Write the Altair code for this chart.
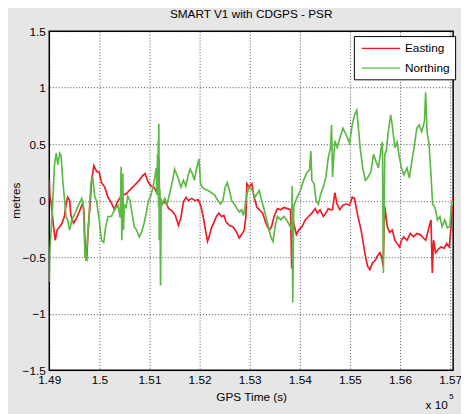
import altair as alt
import pandas as pd

# Easting series (GPS time in s, metres)
east_t = [149000, 149014, 149039, 149079, 149118, 149157, 149210, 149255, 149301, 149340,
          149367, 149407, 149432, 149485, 149550, 149615, 149668, 149694, 149721, 149747,
          149780, 149812, 149845, 149890, 149943, 149996, 150041, 150106, 150173, 150238,
          150303, 150350, 150401, 150468, 150533, 150598, 150664, 150729, 150794, 150861,
          150912, 150959, 151024, 151089, 151156, 151187, 151201, 151254, 151319, 151384,
          151450, 151515, 151580, 151627, 151678, 151731, 151776, 151843, 151908, 151973,
          152026, 152071, 152118, 152158, 152189, 152236, 152287, 152335, 152386, 152433,
          152484, 152531, 152596, 152661, 152728, 152792, 152838, 152891, 152924, 152944,
          152989, 153042, 153087, 153146, 153191, 153258, 153323, 153388, 153435, 153486,
          153553, 153618, 153683, 153749, 153814, 153838, 153848, 153879, 153932, 153977,
          154044, 154109, 154174, 154241, 154306, 154351, 154404, 154469, 154522, 154567,
          154614, 154653, 154699, 154744, 154797, 154862, 154928, 154993, 155046, 155092,
          155137, 155176, 155223, 155268, 155308, 155353, 155400, 155451, 155504, 155549,
          155597, 155636, 155661, 155695, 155746, 155793, 155844, 155897, 155942, 155990,
          156029, 156074, 156139, 156206, 156271, 156335, 156402, 156467, 156512, 156565,
          156618, 156644, 156669, 156709, 156762, 156815, 156880, 156933, 156984, 157023,
          157057]
east_v = [0.18, 0.03, -0.02, -0.2, -0.35, -0.26, -0.23, -0.2, -0.14, -0.02,
          0.03, 0.0, -0.13, -0.2, -0.15, -0.08, -0.02, -0.1, -0.5, -0.52,
          -0.23, -0.05, 0.18, 0.31, 0.26, 0.25, 0.16, 0.12, 0.03, -0.02,
          -0.08, -0.02, 0.02, 0.05, 0.06, 0.09, 0.12, 0.15, 0.18, 0.22,
          0.24, 0.18, 0.13, 0.12, 0.06, 0.38, 0.02, -0.03, -0.01, -0.07,
          -0.09, -0.13, -0.22, -0.15, -0.01, 0.03, 0.0, 0.02, 0.0, 0.01,
          -0.05, -0.14, -0.26, -0.36, -0.32, -0.24, -0.19, -0.14, -0.11, -0.14,
          -0.13, -0.19, -0.22, -0.23, -0.27, -0.33, -0.3, -0.26, -0.14, 0.15,
          0.12, 0.15, 0.03, -0.06, -0.08, -0.11, -0.2, -0.26, -0.23, -0.14,
          -0.07, -0.08, -0.06, -0.07, -0.08, -0.6, -0.11, -0.2, -0.3, -0.26,
          -0.23, -0.17, -0.14, -0.11, -0.07, -0.11, -0.08, -0.14, -0.11, -0.07,
          -0.08, -0.08, 0.07, -0.03, -0.08, -0.04, -0.03, -0.04, 0.03, 0.02,
          -0.09, -0.17, -0.26, -0.38, -0.49, -0.58, -0.61, -0.55, -0.53, -0.49,
          -0.46, -0.5, -0.58, -0.05, -0.23, -0.28, -0.26, -0.35, -0.38, -0.41,
          -0.35, -0.32, -0.35, -0.29, -0.32, -0.29, -0.3, -0.33, -0.35, -0.26,
          -0.17, -0.64, -0.35, -0.46, -0.43, -0.41, -0.42, -0.38, -0.41, -0.2,
          0.03]

# Northing series
north_t = [149000, 149010, 149059, 149104, 149138, 149171, 149210, 149236, 149269, 149301,
           149334, 149367, 149407, 149452, 149517, 149584, 149648, 149682, 149713, 149733,
           149760, 149792, 149831, 149865, 149910, 149943, 149996, 150041, 150087, 150126,
           150173, 150238, 150303, 150370, 150415, 150434, 150448, 150468, 150480, 150499,
           150533, 150566, 150611, 150651, 150696, 150743, 150794, 150841, 150892, 150939,
           150979, 151024, 151069, 151108, 151136, 151147, 151161, 151167, 151175, 151181,
           151187, 151194, 151207, 151221, 151234, 151254, 151305, 151352, 151417, 151462,
           151501, 151535, 151580, 151627, 151678, 151725, 151765, 151810, 151855, 151894,
           151928, 151961, 151987, 152020, 152052, 152105, 152169, 152236, 152301, 152366,
           152419, 152464, 152511, 152551, 152596, 152641, 152694, 152747, 152792, 152838,
           152877, 152910, 152944, 152989, 153054, 153101, 153191, 153239, 153290, 153356,
           153421, 153466, 153506, 153553, 153618, 153683, 153749, 153800, 153834, 153848,
           153859, 153879, 153946, 154011, 154076, 154142, 154194, 154221, 154241, 154286,
           154325, 154370, 154417, 154469, 154522, 154567, 154614, 154634, 154653, 154699,
           154744, 154797, 154862, 154928, 154993, 155046, 155092, 155137, 155170, 155204,
           155255, 155308, 155353, 155420, 155471, 155518, 155569, 155616, 155648, 155668,
           155695, 155726, 155765, 155813, 155844, 155897, 155942, 155976, 156029, 156074,
           156139, 156186, 156237, 156290, 156335, 156382, 156433, 156487, 156512, 156539,
           156579, 156618, 156650, 156697, 156748, 156795, 156840, 156893, 156944, 156992,
           157023, 157057]
north_v = [-0.72, -0.46, -0.11, 0.32, 0.42, 0.32, 0.42, 0.4, 0.18, 0.03,
           -0.14, -0.17, -0.26, -0.17, -0.11, -0.04, 0.02, -0.06, -0.49, -0.53,
           -0.35, -0.14, 0.15, 0.21, 0.03, 0.0, -0.17, -0.35, -0.37, -0.23,
           -0.14, -0.14, -0.08, -0.04, -0.15, 0.3, -0.35, 0.24, -0.26, -0.04,
           -0.06, 0.04, 0.0, -0.11, -0.23, -0.26, -0.32, -0.28, -0.2, -0.1,
           0.0, 0.04, 0.12, 0.21, 0.29, 0.05, 0.41, 0.1, 0.53, -0.05,
           0.68, -0.35, 0.1, -0.75, 0.02, -0.03, 0.02, -0.03, 0.09, 0.18,
           0.28, 0.24, 0.19, 0.12, 0.18, 0.13, 0.21, 0.28, 0.24, 0.18,
           0.26, 0.32, 0.37, 0.15, 0.12, 0.1, 0.09, 0.07, 0.05, 0.0,
           -0.03, 0.0, 0.12, 0.16, 0.09, 0.0, -0.03, -0.07, -0.1, -0.08,
           -0.13, -0.04, 0.06, 0.12, 0.09, 0.03, 0.09, 0.0, -0.08, -0.2,
           -0.32, -0.36, -0.23, -0.14, -0.17, -0.14, -0.18, -0.22, -0.26, 0.13,
           -0.9, -0.05, 0.03, 0.09, 0.18, 0.25, 0.27, 0.44, 0.18, 0.15,
           0.0, -0.03, 0.06, 0.12, 0.21, 0.38, 0.47, 0.67, 0.21, 0.53,
           0.47, 0.55, 0.64, 0.58, 0.51, 0.67, 0.76, 0.8, 0.64, 0.47,
           0.29, 0.18, 0.2, 0.26, 0.41, 0.35, 0.29, 0.44, 0.52, -0.64,
           0.41, 0.44, 0.61, 0.76, 0.67, 0.47, 0.52, 0.41, 0.29, 0.23,
           0.29, 0.2, 0.35, 0.5, 0.64, 0.67, 0.61, 0.7, 0.96, 0.61,
           0.5, 0.23, -0.03, -0.06, -0.17, -0.14, -0.23, -0.17, -0.24, -0.23,
           -0.06, 0.0]

series_names = ["Easting", "Northing"]
series_colors = ["#ee1c25", "#5cb946"]
x_ticks = [149000, 150000, 151000, 152000, 153000, 154000, 155000, 156000, 157000]
y_ticks = [-1.5, -1.0, -0.5, 0.0, 0.5, 1.0, 1.5]

df = pd.concat([
    pd.DataFrame({"t": east_t, "v": east_v, "series": "Easting", "ord": range(len(east_t))}),
    pd.DataFrame({"t": north_t, "v": north_v, "series": "Northing", "ord": range(len(north_t))}),
], ignore_index=True)

FONT = "Liberation Sans"

lines = alt.Chart(df).mark_line(strokeWidth=1.7, clip=True).encode(
    x=alt.X("t:Q",
            scale=alt.Scale(domain=[149000, 157060], nice=False, zero=False),
            axis=alt.Axis(values=x_ticks, title="GPS Time (s)",
                          labelExpr="format(datum.value/100000, '.3~g')",
                          grid=True, ticks=False, domain=False,
                          labelPadding=5, titleY=27, titleBaseline="middle",
                          labelFlush=False)),
    y=alt.Y("v:Q",
            scale=alt.Scale(domain=[-1.5, 1.5], nice=False, zero=False),
            axis=alt.Axis(values=y_ticks, title="metres", format="~g",
                          grid=True, ticks=False, domain=False,
                          labelPadding=4, labelFlush=False,
                          titleX=-34, titleY=172, titleAngle=270,
                          titleAlign="center", titleBaseline="middle")),
    color=alt.Color("series:N",
                    scale=alt.Scale(domain=series_names, range=series_colors),
                    legend=alt.Legend(title=None, orient="none", legendX=310, legendY=5,
                                      symbolType="M-3,0L3,0", symbolSize=169,
                                      symbolStrokeWidth=1.3, labelFontSize=12,
                                      labelFont=FONT, strokeColor="black",
                                      fillColor="white", padding=5, rowPadding=6,
                                      symbolOffset=15, labelOffset=17)),
    order="ord:Q",
)

exp_text = alt.Chart(pd.DataFrame({"a": [0]})).mark_text(
    text="x 10", font=FONT, fontSize=12, align="left", baseline="middle"
).encode(x=alt.value(383), y=alt.value(380))
exp_sup = alt.Chart(pd.DataFrame({"a": [0]})).mark_text(
    text="5", font=FONT, fontSize=8, align="left", baseline="middle"
).encode(x=alt.value(407), y=alt.value(372))

chart = alt.layer(lines, exp_text, exp_sup).properties(
    width=411, height=345,
    title=alt.TitleParams("SMART V1 with CDGPS - PSR", font=FONT, fontSize=12,
                          fontWeight="normal", anchor="middle", offset=4,
                          frame="group"),
    padding={"left": 42, "top": 20, "right": 8, "bottom": 41},
    autosize=alt.AutoSizeParams(type="none"),
    background="#e6e6e6",
).configure_view(
    stroke="black", strokeWidth=1.5, fill="white"
).configure_axis(
    labelFont=FONT, titleFont=FONT, labelFontSize=12, titleFontSize=12,
    titleFontWeight="normal", labelColor="black", titleColor="black",
    gridColor="black", gridDash=[1, 2], gridOpacity=0.7, gridWidth=1,
)

chart.save("out.html", embed_options={"renderer": "svg", "actions": False})
